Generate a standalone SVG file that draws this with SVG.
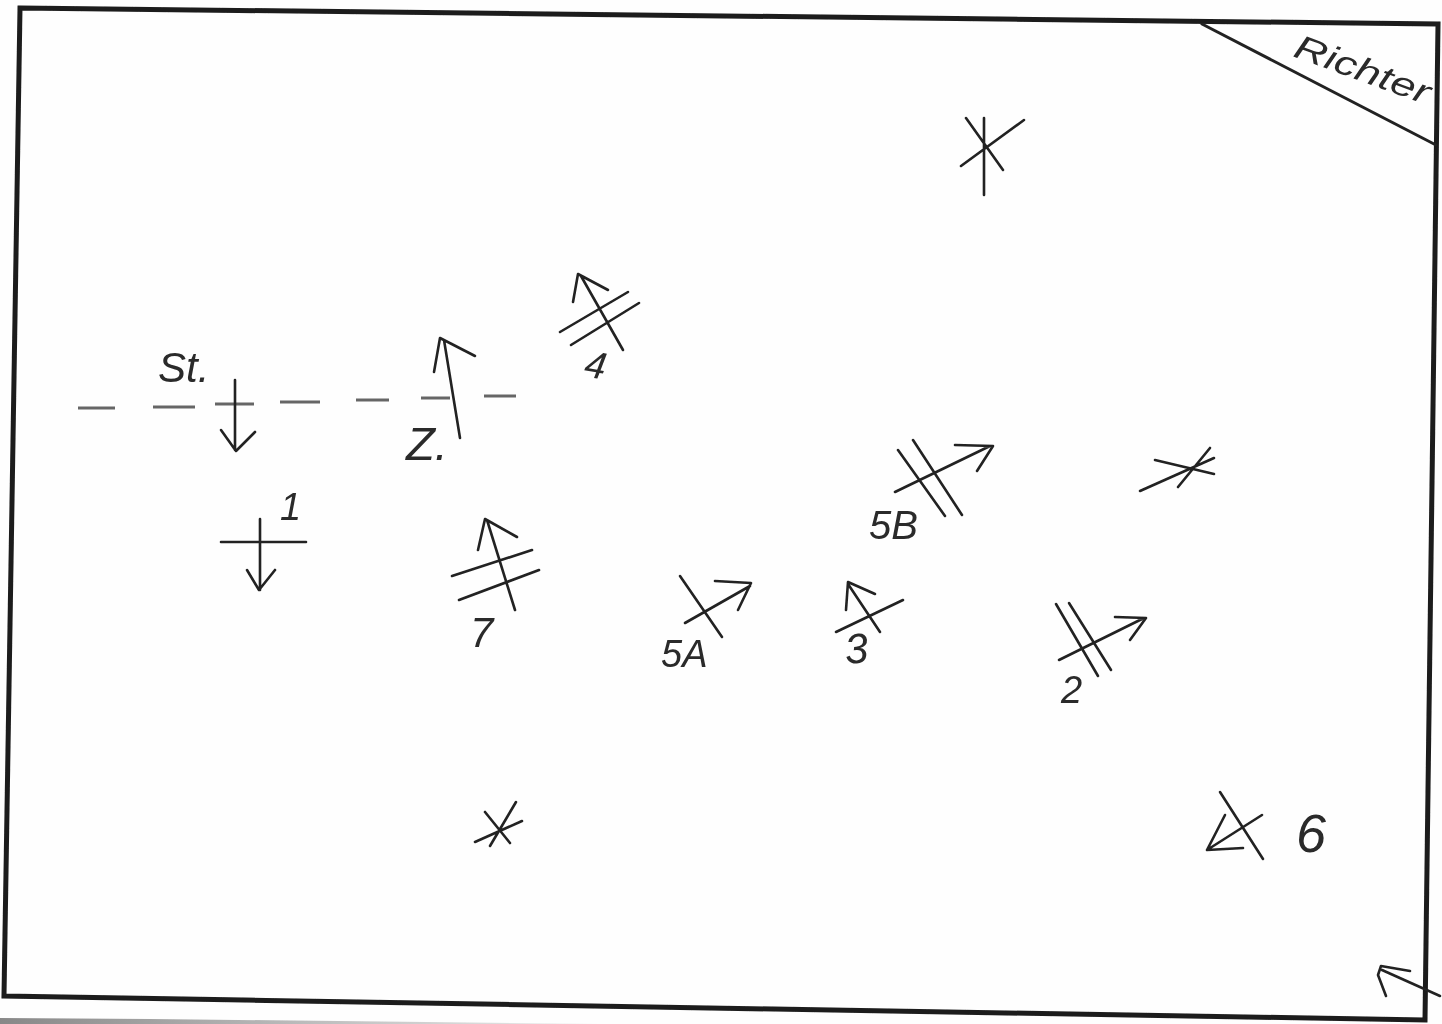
<svg xmlns="http://www.w3.org/2000/svg" width="1442" height="1024" viewBox="0 0 1442 1024">
<defs>
<filter id="soft" x="-5%" y="-5%" width="110%" height="110%"><feGaussianBlur stdDeviation="0.7"/></filter>
<linearGradient id="strip" x1="0" x2="1" y1="0" y2="0"><stop offset="0" stop-color="#888"/><stop offset="0.5" stop-color="#bbb"/><stop offset="1" stop-color="#eee"/></linearGradient>
</defs>
<style>
.s{fill:none;stroke:#222;stroke-width:2.6;stroke-linecap:round;stroke-linejoin:round}
.b{fill:none;stroke:#1c1c1c;stroke-width:5}
.d{fill:none;stroke:#666;stroke-width:3}
.t{font-family:"Liberation Sans",Arial,sans-serif;fill:#2a2a2a;font-style:italic}
</style>
<rect width="1442" height="1024" fill="#fefefe"/>
<g filter="url(#soft)">
<path d="M0 1018 L150 1019 L600 1024 L0 1024 Z" fill="url(#strip)"/>
<path class="b" d="M20 8 L1438 24 L1425 1020 L4 996 Z"/>
<path class="s" d="M1202 24 L1436 145" style="stroke-width:3"/>
<text class="t" font-size="34" transform="translate(1292 56) rotate(20)" textLength="142" lengthAdjust="spacingAndGlyphs">Richter</text>
<g id="star-top"><path class="s" d="M984 118 V195 M966 118 L1003 170 M1024 120 L961 166"/></g>
<g id="star-right"><path class="s" d="M1140 491 L1214 458 M1155 460 L1214 474 M1210 448 L1178 487"/></g>
<g id="star-bottom"><path class="s" d="M475 842 L522 821 M485 812 L510 843 M516 802 L490 846"/></g>
<path class="d" d="M78 408 H115 M153 407 H195 M215 404 H254 M280 402 H320 M356 400 H389 M421 398 H450 M484 396 H516"/>
<g id="st"><path class="s" d="M235 380 V450 M221 430 L236 451 L255 432"/><text class="t" x="158" y="382" font-size="42">St.</text></g>
<g id="z"><path class="s" d="M460 438 L444 340 M434 372 L440 338 L475 356"/><text class="t" x="406" y="460" font-size="46" textLength="42" lengthAdjust="spacingAndGlyphs">Z.</text></g>
<g id="n1"><path class="s" d="M221 542 H306 M260 519 V590 M247 570 L259 590 L275 570"/><text class="t" x="280" y="520" font-size="38">1</text></g>
<g id="n4"><path class="s" d="M623 350 L581 276 M573 302 L578 274 L608 290 M560 332 L628 292 M571 345 L639 303"/><text class="t" transform="translate(583 376) rotate(10)" font-size="38">4</text></g>
<g id="n7"><path class="s" d="M515 610 L487 520 M478 550 L485 519 L517 537 M452 576 L532 550 M459 600 L539 570"/><text class="t" x="470" y="647" font-size="42">7</text></g>
<g id="n5a"><path class="s" d="M685 623 L750 586 M715 581 L751 583 L738 610 M680 576 L722 637"/><text class="t" x="661" y="667" font-size="38">5A</text></g>
<g id="n3"><path class="s" d="M880 632 L848 584 M846 610 L848 582 L875 594 M836 632 L903 600"/><text class="t" transform="translate(846 664) rotate(-5)" font-size="42">3</text></g>
<g id="n5b"><path class="s" d="M895 492 L990 446 M955 445 L993 446 L977 471 M898 450 L945 516 M913 440 L962 515"/><text class="t" x="869" y="539" font-size="40">5B</text></g>
<g id="n2"><path class="s" d="M1059 660 L1144 618 M1115 617 L1146 618 L1130 640 M1056 604 L1098 676 M1069 603 L1111 670"/><text class="t" x="1061" y="703" font-size="38">2</text></g>
<g id="n6"><path class="s" d="M1262 815 L1207 850 M1225 815 L1207 850 L1243 848 M1220 792 L1263 859"/><text class="t" x="1296" y="852" font-size="54">6</text></g>
<g id="corner"><path class="s" d="M1440 996 L1382 970 M1410 971 L1381 966 L1378 975 L1386 996"/></g>
</g>
</svg>
